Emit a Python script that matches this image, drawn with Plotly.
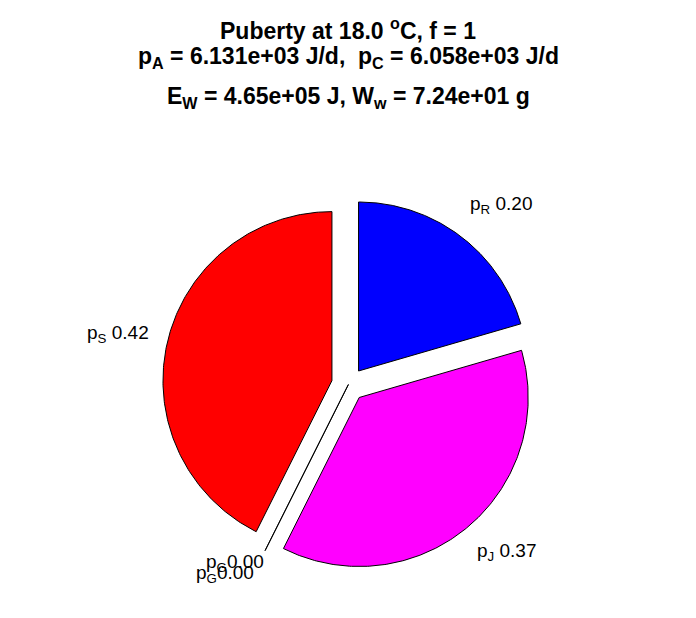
import numpy as np
import plotly.graph_objects as go

# ---- data ----
slice_names = ["p<sub>R</sub>", "p<sub>J</sub>", "p<sub>G</sub>", "p<sub>G</sub>", "p<sub>S</sub>"]
fractions = [0.205, 0.369, 0.0, 0.0, 0.426]
value_labels = ["0.20", "0.37", "0.00", "0.00", "0.42"]
colors = ["#0000FF", "#FF00FF", "#000000", "#000000", "#FF0000"]
title_lines = [
    "Puberty at 18.0 <sup>o</sup>C, f = 1",
    "p<sub>A</sub> = 6.131e+03 J/d,  p<sub>C</sub> = 6.058e+03 J/d",
    "E<sub>W</sub> = 4.65e+05 J, W<sub>w</sub> = 7.24e+01 g",
]

W, H = 696, 618
OFF = 8  # page body margin
R_PX = 169.0
CX, CY = 348.4 - OFF, 384.5 - OFF
EXPLODE = 0.1

fig = go.Figure()
annotations = []
start = 90.0
font = "Liberation Sans, Arial, Helvetica, sans-serif"
# (xshift px right, yshift px up)
label_shift = [(-2, 3), (-3, 2), (9, 17), (-1, 6), (0, -10)]
for i, (name, frac, vl, col) in enumerate(zip(slice_names, fractions, value_labels, colors)):
    a0 = start
    a1 = start - frac * 360.0
    mid = np.deg2rad((a0 + a1) / 2)
    dx, dy = EXPLODE * np.cos(mid), EXPLODE * np.sin(mid)
    if frac > 0:
        t = np.deg2rad(np.linspace(a0, a1, 200))
        xs = np.concatenate([[dx], dx + np.cos(t), [dx]])
        ys = np.concatenate([[dy], dy + np.sin(t), [dy]])
        fig.add_trace(go.Scatter(x=xs, y=ys, mode="lines", fill="toself",
                                 fillcolor=col, line=dict(color="black", width=1),
                                 hoverinfo="skip", showlegend=False))
    else:
        xs = [0, (1 + EXPLODE) * np.cos(mid)]
        ys = [0, (1 + EXPLODE) * np.sin(mid)]
        fig.add_trace(go.Scatter(x=xs, y=ys, mode="lines",
                                 line=dict(color="black", width=1),
                                 hoverinfo="skip", showlegend=False))
    tx, ty = 1.2 * np.cos(mid), 1.2 * np.sin(mid)
    sx, sy = label_shift[i]
    annotations.append(dict(
        x=tx, y=ty, xref="x", yref="y",
        text=f"{name} {vl}" if frac > 0 else f"{name}{vl}",
        showarrow=False, xanchor="left" if tx >= 0 else "right",
        yanchor="bottom" if ty >= 0 else "top",
        xshift=sx, yshift=sy,
        font=dict(family=font, size=19, color="black")))
    start = a1

title_y_px = [29, 57, 97]
for line, ypx in zip(title_lines, title_y_px):
    annotations.append(dict(
        x=(348 - OFF) / W, y=1 - (ypx - OFF) / H, xref="paper", yref="paper",
        text=f"<b>{line}</b>",
        showarrow=False, xanchor="center", yanchor="middle",
        font=dict(family=font, size=23, color="black")))

fig.update_layout(
    width=W, height=H, autosize=False,
    margin=dict(l=0, r=0, t=0, b=0),
    paper_bgcolor="white", plot_bgcolor="white",
    xaxis=dict(range=[-CX / R_PX, (W - CX) / R_PX], visible=False, domain=[0, 1]),
    yaxis=dict(range=[-(H - CY) / R_PX, CY / R_PX], visible=False, domain=[0, 1]),
    annotations=annotations,
)
fig.write_html("out.html")
